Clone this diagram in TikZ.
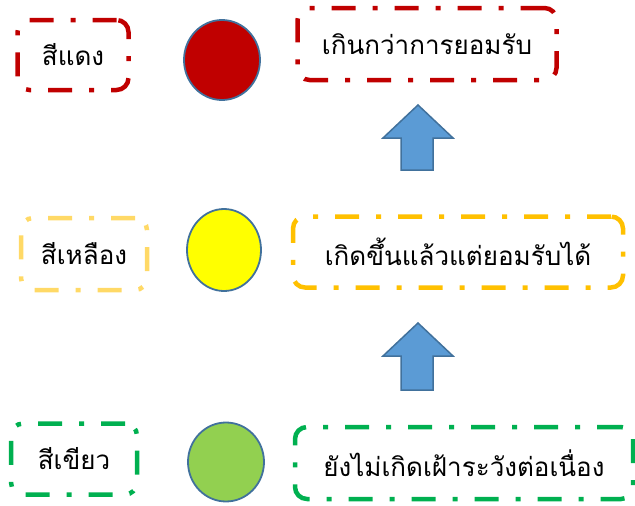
\documentclass[tikz,border=0pt]{standalone}
\usepackage{fontspec}
\usetikzlibrary{shapes.geometric}
\newfontfamily\thaifont[Script=Thai]{Loma}
\begin{document}
\begin{tikzpicture}[x=1pt,y=-1pt,
  lbl/.style={font=\thaifont\fontsize{26}{30}\selectfont, text=black, inner sep=0pt, line width=4.5pt, rounded corners=12pt,
    dash pattern=on 24pt off 17pt on 5pt off 17pt},
  dot/.style={ellipse, line width=1.8pt, draw=circb, inner sep=0pt},
  uparrow/.style={fill=arrf, draw=circb, line width=1.5pt}]
\definecolor{redc}{HTML}{C00000}
\definecolor{goldl}{HTML}{FFD966}
\definecolor{gold}{HTML}{FFC000}
\definecolor{greenc}{HTML}{00B050}
\definecolor{greenf}{HTML}{92D050}
\definecolor{yel}{HTML}{FFFF00}
\definecolor{circb}{HTML}{41719C}
\definecolor{arrf}{HTML}{5B9BD5}
\useasboundingbox (0,0) rectangle (635,506);
% left labels
\node[lbl, draw=redc, minimum width=111pt, minimum height=70pt] (rl) at (73,55) {สีแดง};
\node[lbl, draw=goldl, minimum width=126pt, minimum height=72pt] (yl) at (84,254) {สีเหลือง};
\node[lbl, draw=greenc, minimum width=126pt, minimum height=71pt] (gl) at (74,459) {สีเขียว};
% circles
\node[dot, fill=redc, minimum width=76pt, minimum height=80pt] (rc) at (222,60) {};
\node[dot, fill=yel, minimum width=74pt, minimum height=82pt] (yc) at (224,250) {};
\node[dot, fill=greenf, minimum width=76pt, minimum height=79pt] (gc) at (226,462) {};
% right labels
\node[lbl, draw=redc, minimum width=259pt, minimum height=72pt] (rr) at (427,44) {เกินกว่าการยอมรับ};
\node[lbl, draw=gold, minimum width=330pt, minimum height=71pt] (yr) at (458,252) {เกิดขึ้นแล้วแต่ยอมรับได้};
\node[lbl, draw=greenc, minimum width=338pt, minimum height=72pt] (gr) at (464,463) {ยังไม่เกิดเฝ้าระวังต่อเนื่อง};
% arrows
\draw[uparrow] (418,105) -- (453,138) -- (433,138) -- (433,170) -- (401,170) -- (401,138) -- (383,138) -- cycle;
\draw[uparrow] (418,323) -- (453,356) -- (433,356) -- (433,390) -- (401,390) -- (401,356) -- (383,356) -- cycle;
\end{tikzpicture}
\end{document}
